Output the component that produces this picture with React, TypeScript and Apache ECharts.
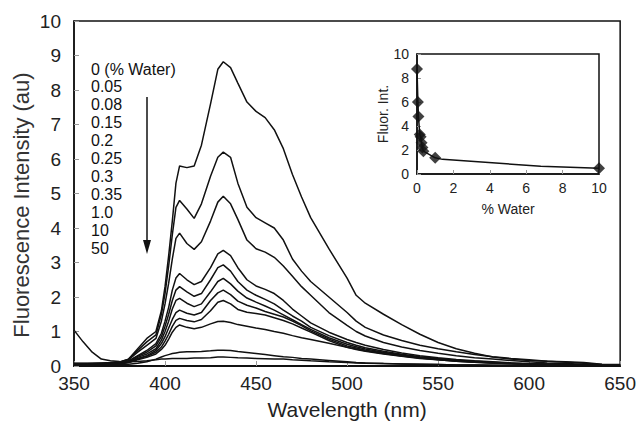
import React, { useEffect, useRef } from "react";
import * as echarts from "echarts";

// Wavelength grid (nm)
const wavelengths = [350,355,360,365,370,375,380,385,390,395,398,400,402,404,406,408,412,416,420,425,429,432,436,440,445,450,455,460,465,470,475,480,490,500,505,510,520,530,540,550,560,570,580,590,600,610,620,630,640,650];

const waterLabels = ["0 (% Water)","0.05","0.08","0.15","0.2","0.25","0.3","0.35","1.0","10","50"];

const c0 = [0.08,0.08,0.08,0.09,0.1,0.12, 0.2,0.5,0.8,1.0,1.6, 2.3,3.2,4.2,5.3,5.8, 5.75,5.8,6.4,7.6,8.6, 8.82,8.65,8.2,7.65,7.38, 7.2,6.85,6.3,5.55,4.9, 4.3,3.4,2.55,2.05,1.82, 1.5,1.2,0.92,0.68,0.5, 0.37,0.26,0.2,0.16,0.14, 0.12,0.1,0.05,0.04];
const c005 = [0.07,0.07,0.07,0.08,0.09,0.11, 0.2,0.45,0.7,0.9,1.5, 2.1,2.9,3.8,4.6,4.8, 4.55,4.28,4.7,5.5,6.05, 6.2,6.05,5.3,4.6,4.3, 4.15,4.0,3.65,3.1,2.75, 2.45,2.0,1.55,1.3,1.12, 0.9,0.74,0.6,0.5,0.41, 0.33,0.27,0.22,0.18,0.14, 0.11,0.08,0.04,0.03];
const c008 = [0.06,0.06,0.07,0.07,0.08,0.1, 0.18,0.4,0.6,0.8,1.3, 1.8,2.4,3.1,3.7,3.85, 3.55,3.38,3.6,4.2,4.75, 4.92,4.7,4.25,3.65,3.4, 3.3,3.15,2.9,2.6,2.3, 2.05,1.55,1.18,1.0,0.87, 0.68,0.55,0.45,0.37,0.3, 0.24,0.2,0.16,0.12,0.09, 0.07,0.05,0.03,0.02];
const c015 = [0.05,0.05,0.06,0.06,0.07,0.09, 0.15,0.3,0.45,0.65,0.95, 1.3,1.7,2.2,2.55,2.68, 2.5,2.36,2.45,2.85,3.25, 3.35,3.2,2.85,2.5,2.32, 2.22,2.1,1.9,1.65,1.45, 1.25,0.98,0.77,0.68,0.6, 0.48,0.38,0.3,0.24,0.19, 0.15,0.12,0.09,0.07,0.05, 0.04,0.03,0.02,0.02];
const c02 = [0.05,0.05,0.05,0.06,0.07,0.08, 0.14,0.28,0.4,0.58,0.85, 1.15,1.5,1.9,2.2,2.3, 2.15,2.02,2.1,2.5,2.85, 2.93,2.75,2.45,2.2,2.05, 1.93,1.8,1.62,1.45,1.3, 1.12,0.88,0.68,0.6,0.53, 0.43,0.34,0.27,0.22,0.17, 0.14,0.11,0.08,0.06,0.05, 0.04,0.03,0.02,0.02];
const c025 = [0.04,0.04,0.05,0.05,0.06,0.08, 0.12,0.25,0.35,0.5,0.75, 1.0,1.3,1.65,1.9,1.96, 1.82,1.72,1.8,2.15,2.45, 2.54,2.38,2.17,1.97,1.85, 1.74,1.62,1.48,1.34,1.2, 1.06,0.82,0.63,0.56,0.49, 0.4,0.32,0.25,0.2,0.16, 0.13,0.1,0.08,0.06,0.05, 0.04,0.03,0.02,0.02];
const c03 = [0.04,0.04,0.04,0.05,0.06,0.07, 0.12,0.22,0.3,0.45,0.65, 0.85,1.1,1.35,1.55,1.62, 1.53,1.48,1.55,1.9,2.12, 2.2,2.07,1.88,1.76,1.68, 1.58,1.5,1.42,1.3,1.17, 1.02,0.78,0.58,0.52,0.46, 0.38,0.3,0.24,0.19,0.15, 0.12,0.09,0.07,0.06,0.05, 0.04,0.03,0.02,0.02];
const c035 = [0.03,0.03,0.04,0.04,0.05,0.06, 0.1,0.2,0.28,0.4,0.55, 0.72,0.92,1.15,1.32,1.38, 1.32,1.28,1.35,1.6,1.85, 1.9,1.8,1.64,1.56,1.52, 1.48,1.4,1.32,1.22,1.1, 0.98,0.74,0.54,0.48,0.43, 0.35,0.28,0.22,0.18,0.14, 0.11,0.09,0.07,0.05,0.04, 0.03,0.03,0.02,0.02];
const c1 = [0.03,0.03,0.03,0.04,0.05,0.06, 0.1,0.18,0.25,0.35,0.48, 0.6,0.78,0.98,1.12,1.19, 1.12,1.08,1.12,1.22,1.29, 1.3,1.26,1.2,1.15,1.1, 1.06,1.0,0.95,0.88,0.82, 0.77,0.66,0.54,0.49,0.44, 0.36,0.29,0.23,0.18,0.14, 0.11,0.09,0.07,0.05,0.04, 0.03,0.03,0.02,0.02];
const c10 = [0.02,0.02,0.02,0.03,0.03,0.04, 0.05,0.08,0.12,0.2,0.26, 0.3,0.33,0.36,0.38,0.4, 0.41,0.41,0.42,0.44,0.46, 0.46,0.45,0.42,0.39,0.36, 0.33,0.3,0.27,0.25,0.22, 0.2,0.16,0.12,0.1,0.09, 0.07,0.06,0.05,0.04,0.03, 0.03,0.02,0.02,0.02,0.01, 0.01,0.01,0.01,0.01];
const c50 = [1.04,0.7,0.4,0.2,0.15,0.13, 0.12,0.13,0.15,0.18,0.2, 0.2,0.21,0.22,0.22,0.22, 0.22,0.23,0.23,0.24,0.26, 0.26,0.25,0.24,0.23,0.22, 0.21,0.2,0.2,0.18,0.17, 0.15,0.12,0.1,0.09,0.08, 0.07,0.06,0.05,0.04,0.03, 0.03,0.02,0.02,0.02,0.01, 0.01,0.01,0.01,0.01];

const spectra = [c0, c005, c008, c015, c02, c025, c03, c035, c1, c10, c50];

// Inset: peak fluorescence vs % water
const insetWater = [0, 0.05, 0.08, 0.15, 0.2, 0.25, 0.3, 0.35, 1.0, 10];
const insetFluor = [8.75, 6.0, 4.8, 3.3, 3.1, 2.6, 2.2, 1.9, 1.35, 0.47];
const insetLineWater = [0, 0.05, 0.08, 0.15, 0.2, 0.25, 0.3, 0.35, 1.0, 1.4, 6.8, 10];
const insetLineFluor = [8.75, 6.0, 4.8, 3.3, 3.1, 2.6, 2.2, 1.9, 1.35, 1.22, 0.65, 0.47];

const FONT = "Liberation Sans, Arial, sans-serif";

export default function App() {
  const ref = useRef<HTMLDivElement>(null);
  useEffect(() => {
    if (!ref.current) return;
    const chart = echarts.init(ref.current, null, { renderer: "svg" });
    const mainSeries = spectra.map((vals, i) => ({
      name: waterLabels[i],
      type: "line",
      xAxisIndex: 0,
      yAxisIndex: 0,
      symbol: "none",
      smooth: false,
      lineStyle: { color: "#111", width: 1.5 },
      data: wavelengths.map((w, j) => [w, vals[j]]),
      z: 3,
    }));
    const legendTexts = waterLabels.map((t, i) => ({
      type: "text",
      left: 91,
      top: 61 + i * 17.9,
      style: { text: t, fontSize: 16, fontFamily: FONT, fill: "#111" },
    }));
    chart.setOption({
      animation: false,
      backgroundColor: "#fff",
      textStyle: { fontFamily: FONT },
      grid: [
        { left: 74, right: 18, top: 21, bottom: 59, show: true, borderColor: "#111", borderWidth: 1.5, backgroundColor: "transparent" },
        { left: 417, top: 54, width: 182, height: 120, show: true, borderColor: "#111", borderWidth: 1.5, backgroundColor: "#fff" },
      ],
      xAxis: [
        {
          type: "value", gridIndex: 0, min: 350, max: 650, interval: 50,
          name: "Wavelength (nm)", nameLocation: "middle", nameGap: 33,
          nameTextStyle: { fontSize: 21, color: "#222", fontFamily: FONT },
          axisLine: { lineStyle: { color: "#111", width: 2 } },
          axisTick: { inside: true, length: 5, lineStyle: { color: "#999" } },
          axisLabel: { fontSize: 19, color: "#222", margin: 8, fontFamily: FONT },
          splitLine: { show: false },
        },
        {
          type: "value", gridIndex: 1, min: 0, max: 10, interval: 2,
          name: "% Water", nameLocation: "middle", nameGap: 28,
          nameTextStyle: { fontSize: 14, color: "#222", fontFamily: FONT },
          axisLine: { lineStyle: { color: "#111", width: 1.5 } },
          axisTick: { inside: true, length: 4, lineStyle: { color: "#999" } },
          axisLabel: { fontSize: 14, color: "#222", margin: 7, fontFamily: FONT },
          splitLine: { show: false },
        },
      ],
      yAxis: [
        {
          type: "value", gridIndex: 0, min: 0, max: 10, interval: 1,
          axisLine: { lineStyle: { color: "#111", width: 1.5 } },
          axisTick: { inside: true, length: 5, lineStyle: { color: "#999" } },
          axisLabel: { fontSize: 19, color: "#222", margin: 13, fontFamily: FONT },
          splitLine: { show: false },
        },
        {
          type: "value", gridIndex: 1, min: 0, max: 10, interval: 2,
          name: "Fluor. Int.", nameLocation: "middle", nameGap: 26,
          nameTextStyle: { fontSize: 14, color: "#222", fontFamily: FONT },
          axisLine: { lineStyle: { color: "#111", width: 1.5 } },
          axisTick: { inside: true, length: 4, lineStyle: { color: "#999" } },
          axisLabel: { fontSize: 14, color: "#222", margin: 8, fontFamily: FONT },
          splitLine: { show: false },
        },
      ],
      series: [
        ...mainSeries,
        {
          type: "line", xAxisIndex: 1, yAxisIndex: 1, symbol: "none",
          lineStyle: { color: "#111", width: 1.5 },
          data: insetLineWater.map((w, i) => [w, insetLineFluor[i]]),
          z: 5,
        },
        {
          type: "scatter", xAxisIndex: 1, yAxisIndex: 1, symbol: "diamond", symbolSize: 12,
          itemStyle: { color: "#111" },
          data: insetWater.map((w, i) => [w, insetFluor[i]]),
          z: 6,
        },
      ],
      graphic: [
        ...legendTexts,
        {
          type: "text", x: 21, y: 205, rotation: Math.PI / 2,
          style: { text: "Fluorescence Intensity (au)", fontSize: 22, fontFamily: FONT, fill: "#333", textAlign: "center", textVerticalAlign: "middle" },
        },
        { type: "line", shape: { x1: 147, y1: 97, x2: 147, y2: 244 }, style: { stroke: "#111", lineWidth: 1.5 } },
        { type: "polygon", shape: { points: [[143, 240], [151, 240], [147, 254]] }, style: { fill: "#111" } },
      ],
    });
    return () => chart.dispose();
  }, []);
  return <div ref={ref} style={{ width: 639, height: 425, position: "absolute", left: 0, top: 0 }} />;
}
